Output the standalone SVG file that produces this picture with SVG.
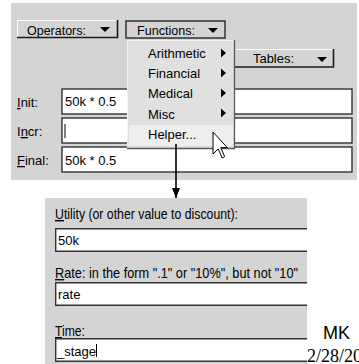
<svg xmlns="http://www.w3.org/2000/svg" width="359" height="364" viewBox="0 0 359 364">
<defs>
<style>
text{font-family:"Liberation Sans",Arial,sans-serif;font-size:13px;fill:#000}
.panel{fill:#d4d4d4}
.field{fill:#fff;stroke:#333;stroke-width:1.4}
.btn{fill:#d4d4d4}
.hl{stroke:#fff;stroke-width:1;fill:none}
.sh{stroke:#1a1a1a;stroke-width:1.6;fill:none}
.tri{fill:#000}
.lbl{font-size:14px}
.bline{stroke:#333;stroke-width:1.4;fill:none}
</style>
<marker id="ah" viewBox="0 0 10 8" refX="10" refY="4" markerWidth="10" markerHeight="8" markerUnits="userSpaceOnUse" orient="auto">
<path d="M0,0 L10,4 L0,8 z" fill="#000"/>
</marker>
</defs>

<g id="top-panel">
<rect class="panel" x="11" y="3" width="346" height="177"/>
</g>

<g id="operators-button">
<rect class="btn" x="17" y="20" width="101" height="18"/>
<path class="hl" d="M17.5,37 V20.5 H117"/>
<path class="sh" d="M17,37.5 H117.5 V20"/>
<text x="27" y="35" textLength="59" lengthAdjust="spacingAndGlyphs">Operators:</text>
<polygon class="tri" points="100,27 110,27 105,32"/>
</g>

<g id="tables-button">
<rect class="btn" x="230" y="49" width="104" height="18"/>
<path class="hl" d="M230,49.5 H333"/>
<path class="sh" d="M230,67 H333.5 V49"/>
<text x="253" y="63" textLength="41" lengthAdjust="spacingAndGlyphs">Tables:</text>
<polygon class="tri" points="317,57 327,57 322,62"/>
</g>

<g id="init-field">
<text x="17" y="107"><tspan text-decoration="underline">I</tspan>nit:</text>
<rect class="field" x="62" y="89" width="290" height="25"/>
<text x="65" y="106">50k * 0.5</text>
</g>

<g id="incr-field">
<text x="17" y="136">I<tspan text-decoration="underline">n</tspan>cr:</text>
<rect class="field" x="62" y="118" width="290" height="25"/>
<line x1="65" y1="124" x2="65" y2="138" stroke="#000" stroke-width="1"/>
</g>

<g id="final-field">
<text x="17" y="165"><tspan text-decoration="underline">F</tspan>inal:</text>
<rect class="field" x="62" y="147" width="290" height="25"/>
<text x="65" y="165">50k * 0.5</text>
</g>

<g id="functions-button">
<rect x="126" y="21" width="99" height="17" fill="#d4d4d4" stroke="#1a1a1a" stroke-width="1.3"/>
<text x="137" y="35" textLength="58" lengthAdjust="spacingAndGlyphs">Functions:</text>
<polygon class="tri" points="208,28 218,28 213,33"/>
</g>

<g id="functions-menu">
<rect x="127" y="40" width="108" height="109" fill="#e0e0e0"/>
<path d="M127.5,148 V40.5 H234" stroke="#f4f4f4" stroke-width="1" fill="none"/>
<path d="M127,148.5 H234.5 V40" stroke="#5a5a5a" stroke-width="1.3" fill="none"/>
<rect x="129" y="125" width="104" height="21" fill="#eeeeee"/>
<text x="148" y="58">Arithmetic</text>
<polygon class="tri" points="221,48.5 221,57.5 226,53"/>
<text x="148" y="78">Financial</text>
<polygon class="tri" points="221,68.5 221,77.5 226,73"/>
<text x="148" y="98">Medical</text>
<polygon class="tri" points="221,88.5 221,97.5 226,93"/>
<text x="148" y="118.5">Misc</text>
<polygon class="tri" points="221,108.5 221,117.5 226,113"/>
<text x="148" y="139">Helper...</text>
</g>

<g id="cursor">
<polygon points="213,132 213,154 218.2,148.9 222.1,158 224.7,156.7 220.8,147.6 227.3,147.6" fill="#fff" stroke="#000" stroke-width="1" stroke-linejoin="miter"/>
</g>

<g id="connectors">
<line x1="176" y1="144" x2="176" y2="198" stroke="#000" stroke-width="1.6" marker-end="url(#ah)"/>
</g>

<g id="discount-dialog">
<rect class="panel" x="45" y="198" width="262" height="166"/>
</g>

<g id="utility-field">
<text class="lbl" x="55" y="219" textLength="183" lengthAdjust="spacingAndGlyphs"><tspan text-decoration="underline">U</tspan>tility (or other value to discount):</text>
<rect x="55" y="228" width="252" height="24" fill="#fff"/>
<path class="bline" d="M307,228.7 H55.7 V251.3 H307"/>
<text x="58" y="245">50k</text>
</g>

<g id="rate-field">
<text class="lbl" x="55" y="278" textLength="243" lengthAdjust="spacingAndGlyphs"><tspan text-decoration="underline">R</tspan>ate: in the form ".1" or "10%", but not "10"</text>
<rect x="55" y="282" width="252" height="24" fill="#fff"/>
<path class="bline" d="M307,282.7 H55.7 V305.3 H307"/>
<text x="58" y="299">rate</text>
</g>

<g id="time-field">
<text class="lbl" x="55" y="336" textLength="30" lengthAdjust="spacingAndGlyphs"><tspan text-decoration="underline">T</tspan>ime:</text>
<rect x="55" y="338" width="252" height="24" fill="#fff"/>
<path class="bline" d="M307,338.7 H55.7 V361.3 H307"/>
<text x="57" y="356">_stage</text>
<line x1="96.5" y1="344" x2="96.5" y2="357" stroke="#000" stroke-width="1"/>
</g>

<g id="signature">
<text x="323" y="339" style="font-size:18px">MK</text>
<text x="307" y="362" style="font-family:'Liberation Serif','Times New Roman',serif;font-size:18px">2/28/20</text>
</g>
</svg>
